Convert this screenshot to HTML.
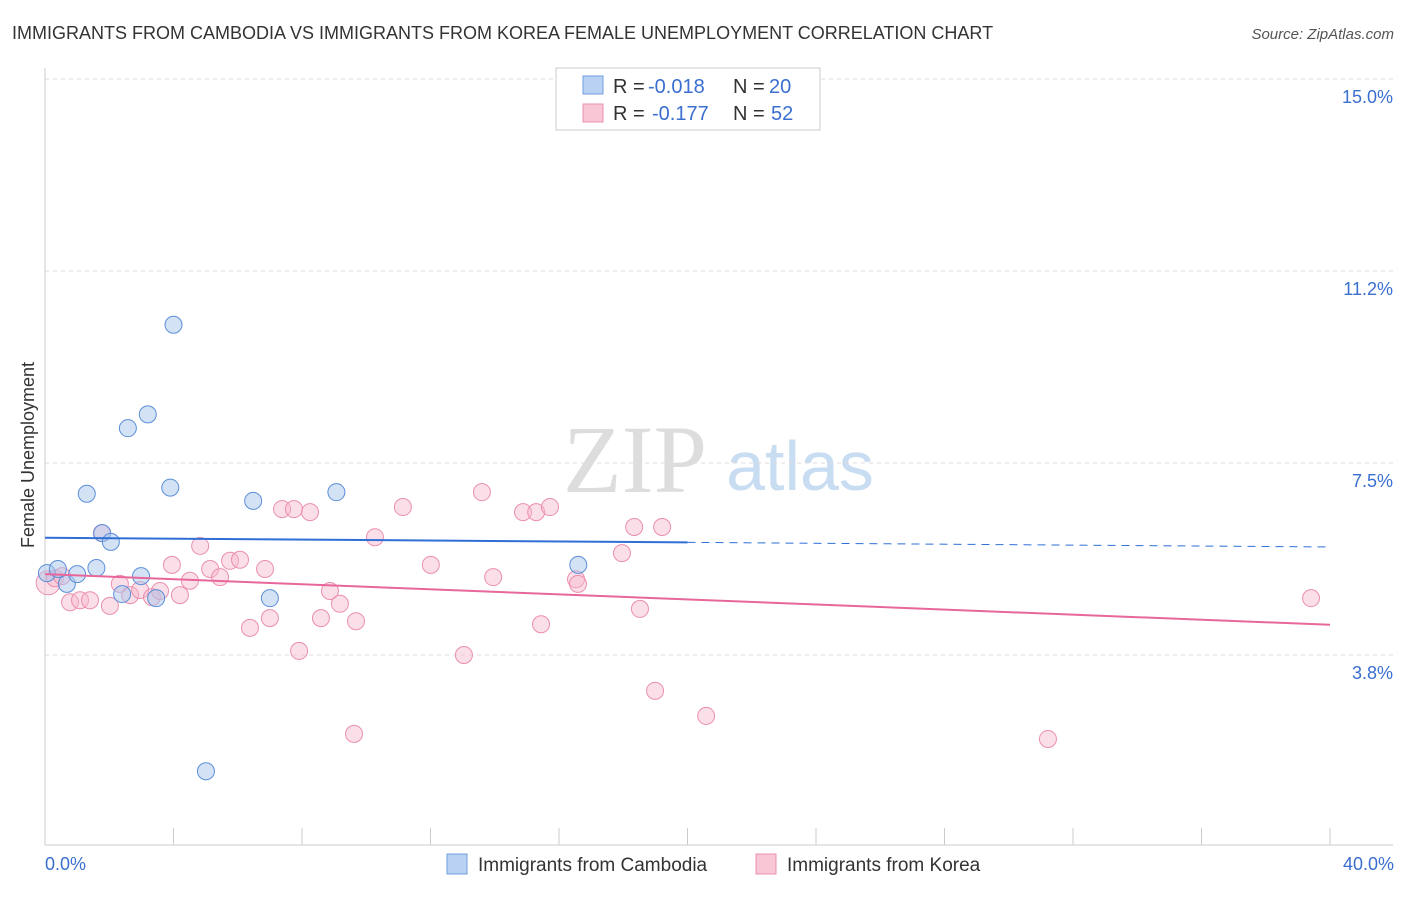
<!DOCTYPE html>
<html><head><meta charset="utf-8"><style>
body{margin:0;background:#fff;font-family:"Liberation Sans",sans-serif;}
</style></head><body>
<svg width="1406" height="892" font-family="Liberation Sans, sans-serif">
<text x="12" y="39" font-size="18" fill="#333">IMMIGRANTS FROM CAMBODIA VS IMMIGRANTS FROM KOREA FEMALE UNEMPLOYMENT CORRELATION CHART</text>
<text x="1394" y="39" font-size="15" fill="#555" font-style="italic" text-anchor="end">Source: ZipAtlas.com</text>
<text x="635" y="492" font-size="96" fill="#ddd" font-family="Liberation Serif, serif" text-anchor="middle">ZIP</text>
<text x="800" y="490" font-size="70" fill="#c8dcf2" text-anchor="middle">atlas</text>
<g id="grid"></g><g id="axes"></g><g id="pts"></g><g id="trend"></g>
<text x="34" y="455" font-size="18" fill="#333" text-anchor="middle" transform="rotate(-90 34 455)">Female Unemployment</text>
<text x="45" y="870" font-size="18" fill="#3a6fd0">0.0%</text>
<text x="1394" y="870" font-size="18" fill="#3a6fd0" text-anchor="end">40.0%</text>
<g font-size="20">
<rect x="556" y="68" width="264" height="62" fill="#fff" stroke="#ccc"/>
<rect x="583" y="76" width="20" height="18" fill="#b9d2f3" stroke="#6f9ee0"/>
<text x="613" y="93" fill="#333">R =</text><text x="648" y="93" fill="#3a6fd0">-0.018</text>
<text x="733" y="93" fill="#333">N =</text><text x="769" y="93" fill="#3a6fd0">20</text>
<rect x="583" y="104" width="20" height="18" fill="#f9c6d5" stroke="#ec8fae"/>
<text x="613" y="120" fill="#333">R =</text><text x="652" y="120" fill="#3a6fd0">-0.177</text>
<text x="733" y="120" fill="#333">N =</text><text x="771" y="120" fill="#3a6fd0">52</text>
</g>
<g>
<rect x="447" y="854" width="20" height="20" fill="#b9d2f3" stroke="#6f9ee0"/>
<text x="478" y="871" font-size="19" fill="#333">Immigrants from Cambodia</text>
<rect x="756" y="854" width="20" height="20" fill="#f9c6d5" stroke="#ec8fae"/>
<text x="787" y="871" font-size="19" fill="#333">Immigrants from Korea</text>
</g>
</svg>
<script>
const yTicks=[15,11.25,7.5,3.75];
const yTickLabels=["15.0%","11.2%","7.5%","3.8%"];
const xTicks=[0,4,8,12,16,20,24,28,32,36,40];
const cambX=[0.06,0.4,0.68,1,1.3,1.6,1.78,2.05,2.4,2.58,2.99,3.2,3.46,3.9,4.0,5.01,6.48,7.0,9.07,16.6];
const cambY=[5.35,5.43,5.14,5.33,6.9,5.45,6.13,5.96,4.94,8.18,5.29,8.45,4.86,7.02,10.2,1.48,6.76,4.86,6.93,5.51];
const korX=[0.1,0.31,0.53,0.78,1.09,1.4,1.77,2.02,2.33,2.65,2.96,3.33,3.58,3.95,4.2,4.51,4.83,5.14,5.45,5.76,6.07,6.38,6.85,7.0,7.38,7.75,7.91,8.25,8.59,8.87,9.18,9.62,9.68,10.27,11.14,12.01,13.04,13.6,13.95,14.88,15.29,15.44,15.72,16.53,16.59,17.96,18.34,18.52,18.99,19.21,20.58,31.22,39.41];
const korY=[5.16,5.25,5.29,4.78,4.82,4.82,6.13,4.71,5.14,4.92,5.02,4.88,5.0,5.51,4.92,5.2,5.88,5.43,5.27,5.59,5.61,4.28,5.43,4.47,6.6,6.6,3.83,6.54,4.47,5.0,4.75,2.21,4.41,6.05,6.64,5.51,3.75,6.93,5.27,6.54,6.54,4.35,6.64,5.23,5.14,5.74,6.25,4.65,3.05,6.25,2.56,2.11,4.86];
const NS="http://www.w3.org/2000/svg";
const sx=v=>45+v*32.125, sy=v=>847-v*51.2;
function mk(t,a,p){const e=document.createElementNS(NS,t);for(const k in a)e.setAttribute(k,a[k]);document.getElementById(p).appendChild(e);return e;}
yTicks.forEach((t,i)=>{
 const l=mk('line',{x1:45,x2:1393,y1:sy(t),y2:sy(t),stroke:'#ddd','stroke-dasharray':'4,4'},'grid');
 
 
 const tx=mk('text',{x:1393,y:sy(t)+24,'font-size':18,fill:'#3a6fd0','text-anchor':'end'},'grid');
 tx.textContent=yTickLabels[i];
 
 
});
let ax=mk('line',{x1:45,x2:45,y1:68,y2:845,stroke:'#ccc'},'axes');


ax=mk('line',{x1:45,x2:1393,y1:845,y2:845,stroke:'#ccc'},'axes');


xTicks.forEach(t=>{const l=mk('line',{x1:sx(t),x2:sx(t),y1:828,y2:845,stroke:'#ccc'},'axes');
 
 });
korX.forEach((x,i)=>{const c=mk('circle',{cx:sx(x),cy:sy(korY[i]),r:i==0?12:8.5,fill:'#f6b8cc','fill-opacity':0.45,stroke:'#eb8fae','stroke-width':1},'pts');
 
 });
cambX.forEach((x,i)=>{const c=mk('circle',{cx:sx(x),cy:sy(cambY[i]),r:8.5,fill:'#a9c6ee','fill-opacity':0.5,stroke:'#5b8fd8','stroke-width':1},'pts');
 
 });
const cambTrend=[6.04,5.86], korTrend=[5.33,4.34];
let t=mk('line',{x1:sx(0),y1:sy(cambTrend[0]),x2:sx(20),y2:sy(cambTrend[0]+(cambTrend[1]-cambTrend[0])*0.5),stroke:'#2f6fd6','stroke-width':2},'trend');


t=mk('line',{x1:sx(20),y1:sy(cambTrend[0]+(cambTrend[1]-cambTrend[0])*0.5),x2:sx(40),y2:sy(cambTrend[1]),stroke:'#2f6fd6','stroke-width':1,'stroke-dasharray':'8,6'},'trend');


t=mk('line',{x1:sx(0),y1:sy(korTrend[0]),x2:sx(40),y2:sy(korTrend[1]),stroke:'#e8679a','stroke-width':2},'trend');


</script>
</body></html>
